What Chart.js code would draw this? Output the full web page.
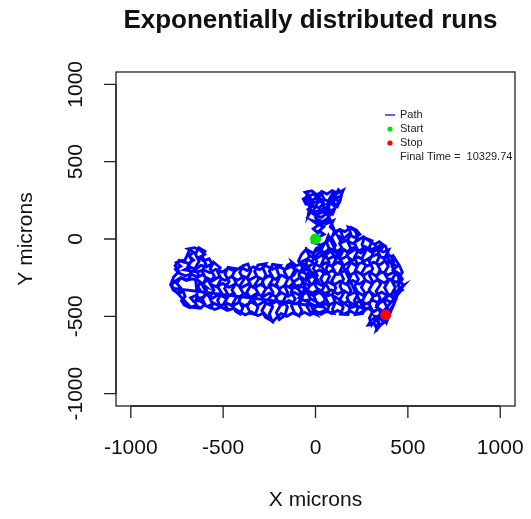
<!DOCTYPE html>
<html>
<head>
<meta charset="utf-8">
<script src="https://cdn.jsdelivr.net/npm/chart.js@4/dist/chart.umd.min.js"></script>
<style>
  html, body { margin: 0; padding: 0; background: #fff; }
  #wrap { width: 531px; height: 519px; }
</style>
</head>
<body>
<div id="wrap"><canvas id="walk"></canvas></div>
<script>
'use strict';

// walk (microns), in stretches: start -> stop
var walkLoop = [
  [0,0],[14,38],[-12,66],[22,96],[6,128],[40,112],[72,140],[58,98],[96,118],[80,78],[104,52],
  [70,150],[42,176],[8,158],[-22,186],[-40,150],[-30,210],[-8,236],[-52,226],[-66,258],[-38,280],[-56,302],[-20,312],[8,286],[36,306],[62,290],[90,312],[120,296],[150,316],[138,280],[110,262],[128,236],[100,214],[80,238],[52,254],[24,240],[-2,262],[-28,244],[-48,268],[-14,290],[20,268],[48,226],[18,202],[-14,214],[-40,192],[-18,168],[14,182],[46,196],[78,180],[104,196],[92,160],[62,170],[34,140],[4,150],
  [-20,170],[-34,214],[-52,256],[-44,296],[-30,270],[-16,230],[-6,196],[10,232],[20,276],[30,300],[44,262],[36,222],[56,186],[66,230],[80,270],[98,300],[112,272],[96,236],[118,210],[134,250],[142,292],[124,318],
  [106,280],[86,250],[70,206],[84,166],[64,130],[40,100],
  [-18,120],[10,96],[44,78],[20,52],[46,30],[16,12],[-14,-22]
];
var walkEast = [
  [30,-40],[70,-10],[100,30],[130,62],[160,48],[190,76],[220,58],[240,30],[210,10],[180,30],[150,0],[120,22],
  [140,-24],[170,-8],[200,-30],[232,-6],[260,14],[290,-12],[320,-36],[345,-18],[372,-42],[356,-64],
  [330,-50],[300,-72],[268,-48],[240,-76],[206,-56],[176,-84],[142,-60],[110,-86],[78,-62],[48,-88],[18,-66],[-12,-92],[-44,-70],
  [-30,-112],[4,-126],[36,-104],[70,-130],[104,-108],[136,-132],[170,-112],[200,-138],[232,-116],[266,-142],[298,-118],[330,-100],[364,-122],[398,-104],[420,-130],
  [404,-156],[376,-142],[346,-168],[314,-150],[282,-174],[250,-152],[216,-170],[186,-146],[154,-172],[120,-150],[88,-176],[56,-154],[24,-178],[-8,-156],[-40,-180],[-72,-158],[-104,-174],[-128,-150],
  [-110,-200],[-78,-214],[-44,-196],[-12,-222],[22,-200],[56,-226],[90,-204],[122,-230],[156,-206],[190,-232],[224,-210],[258,-236],[292,-212],[326,-238],[360,-214],[394,-232],[428,-212],[446,-240],
  [464,-262],[436,-280],[404,-258],[372,-284],[338,-262],[304,-288],[270,-266],[236,-292],[202,-268],[168,-294],[134,-272],[100,-298],[66,-276],[32,-300],[0,-278],[-32,-302],[-66,-280],
  [-50,-330],[-16,-350],[18,-326],[52,-352],[86,-330],[120,-356],[154,-334],[188,-360],[222,-338],[256,-364],[290,-340],[324,-366],[358,-344],[392,-368],[426,-346],[460,-324],[478,-300],[452,-318],
  [436,-390],[410,-410],[378,-392],[344,-416],[310,-396],[276,-420],[242,-398],[208,-424],[174,-402],[140,-428],[106,-406],[72,-430],[38,-410],[4,-436],[-30,-414],
  [-14,-456],[20,-478],[54,-460],[88,-482],[120,-462],[154,-486],[188,-466],[222,-488],[254,-470],[284,-446],[312,-472],[340,-452],[372,-476],[404,-458],[420,-430],
  [396,-500],[366,-516],[334,-500],[302,-524],[286,-556],[318,-548],[334,-584],[348,-560],[370,-540],[352,-516],[320,-500]
];
var walkEastCols = [
  [340,-540],[330,-586],[350,-560],[336,-520],[352,-476],[330,-430],[350,-384],[328,-338],[352,-292],[330,-246],[350,-200],[330,-154],[348,-108],[334,-62],[350,-40],
  [378,-44],[392,-86],[372,-130],[394,-176],[372,-222],[396,-268],[374,-314],[394,-360],[372,-406],[392,-452],[370,-500],[384,-540],
  [414,-450],[430,-406],[410,-360],[432,-314],[412,-268],[434,-222],[414,-176],[428,-130],[416,-100],
  [454,-172],[470,-214],[450,-258],[476,-300],[456,-344],
  [304,-556],[292,-512],[310,-466],[290,-420],[312,-374],[290,-328],[312,-282],[292,-236],[310,-190],[290,-144],[310,-98],[292,-52],[306,-12],
  [264,8],[252,-36],[270,-82],[250,-128],[272,-174],[250,-220],[270,-266],[248,-312],[272,-358],[252,-404],[268,-450],[256,-482],
  [216,-488],[230,-444],[210,-398],[232,-352],[212,-306],[232,-260],[212,-214],[230,-168],[210,-122],[230,-76],[212,-30],[228,14],[214,56],
  [178,76],[192,32],[172,-12],[190,-58],[170,-104],[192,-150],[170,-196],[190,-242],[172,-288],[192,-334],[170,-380],[190,-426],[176,-488],
  [136,-486],[150,-442],[130,-396],[152,-350],[132,-304],[152,-258],[132,-212],[150,-166],[130,-120],[150,-74],[130,-28],[146,18],[134,58],
  [102,50],[88,6],[108,-40],[88,-86],[110,-132],[90,-178],[110,-224],[88,-270],[110,-316],[90,-362],[108,-408],[92,-454],[100,-480],
  [62,-470],[74,-426],[54,-380],[76,-334],[56,-288],[76,-242],[56,-196],[74,-150],[56,-104],[72,-58],[58,-14],[70,22]
];
var walkWest = [
  [260,-452],[226,-432],[190,-444],[156,-418],[120,-384],[86,-360],[52,-372],[20,-346],
  [-12,-366],[-46,-344],[-80,-368],[-114,-346],[-148,-370],[-182,-348],[-216,-372],[-250,-350],[-284,-374],[-318,-352],[-352,-376],[-386,-354],[-420,-378],[-454,-356],[-488,-380],[-522,-358],[-556,-382],[-590,-360],[-620,-338],
  [-636,-312],[-628,-286],[-600,-302],[-632,-270],[-666,-258],[-700,-268],[-730,-250],[-760,-272],[-782,-300],[-770,-330],[-744,-352],[-716,-340],[-706,-372],[-726,-398],[-710,-428],[-680,-444],[-650,-430],[-620,-446],[-600,-420],[-630,-398],[-660,-404],[-676,-380],[-650,-366],[-626,-384],[-600,-370],
  [-590,-330],[-610,-290],[-584,-262],[-610,-230],[-640,-248],[-672,-226],[-706,-238],[-740,-220],[-758,-196],[-730,-176],[-752,-152],[-720,-138],[-690,-160],[-660,-136],[-684,-110],[-660,-86],[-690,-64],[-656,-56],[-624,-72],[-600,-100],[-630,-118],[-606,-142],[-576,-128],[-560,-160],[-590,-180],[-620,-170],[-648,-196],[-680,-182],[-710,-200],
  [-640,-214],[-606,-200],[-572,-218],[-540,-196],[-506,-214],[-472,-190],[-438,-208],[-404,-182],[-370,-204],[-336,-180],[-302,-198],[-268,-172],[-234,-196],[-200,-176],[-166,-198],[-132,-178],[-100,-200],
  [-118,-236],[-150,-256],[-184,-234],[-218,-260],[-252,-238],[-286,-262],[-320,-240],[-354,-264],[-388,-242],[-422,-266],[-456,-244],[-490,-268],[-524,-246],[-558,-270],[-590,-250],
  [-570,-292],[-536,-310],[-502,-288],[-468,-312],[-434,-290],[-400,-314],[-366,-292],[-332,-316],[-298,-294],[-264,-318],[-230,-296],[-196,-320],[-162,-298],[-128,-322],[-94,-300],[-60,-316],
  [-76,-400],[-110,-420],[-144,-398],[-178,-424],[-212,-402],[-246,-428],[-280,-406],[-314,-430],[-348,-408],[-382,-432],[-416,-410],[-450,-434],[-484,-412],[-518,-436],[-552,-414],[-580,-434],
  [-546,-456],[-512,-440],[-478,-462],[-444,-448],[-410,-470],[-380,-490],[-346,-472],[-312,-496],[-280,-478],[-254,-510],[-232,-536],[-210,-508],[-186,-482],[-156,-500],[-124,-478],[-92,-496],[-60,-474],[-30,-492],[0,-470],[30,-488],[62,-466]
];
var walkWestCols = [
  [40,-430],[52,-388],[30,-346],[48,-302],[28,-258],[50,-214],[30,-170],[46,-124],[26,-80],[44,-40],
  [4,-60],[-14,-100],[8,-146],[-12,-190],[10,-236],[-10,-282],[12,-326],[-8,-372],[10,-418],[-10,-462],[6,-490],
  [-30,-470],[-50,-428],[-28,-384],[-48,-338],[-26,-292],[-50,-246],[-30,-200],[-52,-156],[-34,-110],[-50,-66],
  [-76,-100],[-92,-142],[-70,-186],[-90,-232],[-68,-278],[-92,-324],[-72,-370],[-94,-416],[-74,-462],[-88,-498],
  [-114,-476],[-130,-432],[-110,-388],[-132,-342],[-112,-296],[-134,-250],[-114,-204],[-130,-156],
  [-150,-168],[-170,-210],[-148,-256],[-168,-302],[-150,-348],[-172,-394],[-152,-440],[-166,-494],
  [-196,-520],[-212,-476],[-190,-430],[-214,-384],[-192,-338],[-212,-292],[-194,-246],[-210,-196],[-190,-172],
  [-232,-164],[-250,-208],[-228,-254],[-252,-300],[-230,-346],[-254,-392],[-232,-438],[-250,-484],[-236,-530],
  [-272,-506],[-290,-462],[-268,-416],[-292,-370],[-270,-324],[-288,-278],[-268,-232],[-286,-186],[-270,-160],
  [-312,-168],[-330,-212],[-308,-258],[-332,-304],[-310,-350],[-334,-396],[-312,-442],[-326,-488],
  [-352,-480],[-370,-436],[-348,-390],[-372,-344],[-350,-298],[-370,-252],[-350,-206],[-366,-162],
  [-392,-172],[-410,-216],[-388,-262],[-412,-308],[-390,-354],[-414,-400],[-394,-446],[-408,-486],
  [-434,-466],[-450,-422],[-428,-376],[-452,-330],[-430,-284],[-450,-238],[-432,-192],
  [-474,-184],[-490,-228],[-468,-274],[-492,-320],[-470,-366],[-494,-412],[-476,-452],
  [-514,-440],[-530,-396],[-508,-350],[-532,-304],[-510,-258],[-530,-212],[-516,-186],
  [-552,-150],[-570,-194],[-548,-240],[-572,-286],[-550,-332],[-574,-378],[-556,-424],[-570,-446],
  [-596,-430],[-612,-388],[-590,-346],[-612,-300],[-594,-254],[-614,-208],[-594,-162],[-612,-116],[-598,-80],
  [-632,-56],[-650,-98],[-630,-144],[-652,-190],[-632,-236],[-648,-268],
  [-640,-372],[-652,-410],[-636,-446],
  [-676,-440],[-700,-410],[-724,-380],[-748,-350],[-730,-316],[-752,-286],[-728,-250],[-690,-264],[-672,-226],[-692,-182],[-670,-138],[-690,-94],[-676,-58],
  [-712,-150],[-738,-138],[-760,-172],[-740,-210],[-768,-246],[-784,-296],[-766,-320]
];
var walkHome = [
  [40,-440],[10,-410],[-24,-388],[-56,-400],[-90,-380],[-70,-350],[-100,-320],[-134,-300],[-110,-270],[-80,-246],[-50,-268],[-20,-240],[10,-262],[-10,-220],[-40,-236],[-70,-212],[-50,-180],[-80,-150],[-48,-130],[-20,-146],[0,-110],[30,-80],[60,-100],[90,-70],[120,-96],[150,-68],[182,-92],[214,-66],[246,-90],[276,-64],[306,-88],[338,-66],[366,-84],[396,-70],[380,-110],[410,-150],[440,-178],[420,-200],[452,-224],[470,-260],[446,-300],[470,-330],[440,-352],[420,-380],[396,-360],[372,-384],[350,-410],[330,-440],[356,-460],[380,-490]
];
var startPoint = [0, 0];
var stopPoint = [380, -490];
var xTicks = [-1000, -500, 0, 500, 1000];
var yTicks = [-1000, -500, 0, 500, 1000];
var legendLabels = ['Path', 'Start', 'Stop', 'Final Time =  10329.74'];

var FONT = '"Liberation Sans", Arial, Helvetica, sans-serif';
var INK = '#222';

var toXY = function (p) { return { x: p[0], y: p[1] }; };
var path = walkLoop.concat(walkEast, walkEastCols, walkWest, walkWestCols, walkHome);

// R style frame, ticks, labels and legend drawn off the chart's own scales
var rDecor = {
  id: 'rDecor',
  afterDraw: function (chart) {
    var ctx = chart.ctx;
    var area = chart.chartArea;
    var xs = chart.scales.x;
    var ys = chart.scales.y;
    var tick = 12;

    ctx.save();
    ctx.strokeStyle = INK;
    ctx.lineWidth = 1.3;
    ctx.strokeRect(area.left, area.top, area.right - area.left, area.bottom - area.top);

    // x axis
    ctx.beginPath();
    ctx.moveTo(xs.getPixelForValue(xTicks[0]), area.bottom);
    ctx.lineTo(xs.getPixelForValue(xTicks[xTicks.length - 1]), area.bottom);
    xTicks.forEach(function (v) {
      var px = xs.getPixelForValue(v);
      ctx.moveTo(px, area.bottom);
      ctx.lineTo(px, area.bottom + tick);
    });
    // y axis
    ctx.moveTo(area.left, ys.getPixelForValue(yTicks[0]));
    ctx.lineTo(area.left, ys.getPixelForValue(yTicks[yTicks.length - 1]));
    yTicks.forEach(function (v) {
      var py = ys.getPixelForValue(v);
      ctx.moveTo(area.left, py);
      ctx.lineTo(area.left - tick, py);
    });
    ctx.stroke();

    ctx.fillStyle = '#111';
    ctx.font = '21px ' + FONT;
    ctx.textAlign = 'center';
    ctx.textBaseline = 'middle';
    xTicks.forEach(function (v) {
      ctx.fillText(String(v), xs.getPixelForValue(v), area.bottom + 42);
    });
    yTicks.forEach(function (v) {
      ctx.save();
      ctx.translate(area.left - 40, ys.getPixelForValue(v));
      ctx.rotate(-Math.PI / 2);
      ctx.fillText(String(v), 0, 0);
      ctx.restore();
    });

    // axis titles and main title
    var midX = (area.left + area.right) / 2;
    var midY = (area.top + area.bottom) / 2;
    ctx.fillText('X microns', midX, area.bottom + 94);
    ctx.save();
    ctx.translate(area.left - 90, midY);
    ctx.rotate(-Math.PI / 2);
    ctx.fillText('Y microns', 0, 0);
    ctx.restore();
    ctx.font = 'bold 26px ' + FONT;
    ctx.fillText('Exponentially distributed runs', midX - 5, 21);

    // legend (no box)
    var lx = area.right - 129;
    var ly = area.top + 43;
    var gap = 14;
    ctx.font = '11px ' + FONT;
    ctx.textAlign = 'left';
    ctx.strokeStyle = '#6060ff';
    ctx.lineWidth = 2;
    ctx.beginPath();
    ctx.moveTo(lx - 1, ly);
    ctx.lineTo(lx + 9, ly);
    ctx.stroke();
    ctx.fillStyle = '#00e000';
    ctx.beginPath();
    ctx.arc(lx + 4, ly + gap, 2.6, 0, Math.PI * 2);
    ctx.fill();
    ctx.fillStyle = '#ff0000';
    ctx.beginPath();
    ctx.arc(lx + 4, ly + 2 * gap, 2.6, 0, Math.PI * 2);
    ctx.fill();
    ctx.fillStyle = '#222';
    legendLabels.forEach(function (t, i) {
      ctx.fillText(t, lx + 14, ly + i * gap);
    });
    ctx.restore();
  }
};

new Chart(document.getElementById('walk'), {
  type: 'scatter',
  data: {
    datasets: [
      {
        label: 'Path',
        data: path.map(toXY),
        showLine: true,
        borderColor: '#0000ff',
        borderWidth: 2.9,
        pointRadius: 0,
        tension: 0,
        order: 2
      },
      {
        label: 'Start',
        data: [toXY(startPoint)],
        backgroundColor: '#00e000',
        borderWidth: 0,
        pointRadius: 5.5,
        order: 1
      },
      {
        label: 'Stop',
        data: [toXY(stopPoint)],
        backgroundColor: '#ff0000',
        borderWidth: 0,
        pointRadius: 5.5,
        order: 1
      }
    ]
  },
  options: {
    responsive: true,
    maintainAspectRatio: false,
    animation: false,
    layout: { padding: { left: 116, right: 16, top: 72, bottom: 113 } },
    plugins: {
      legend: { display: false },
      tooltip: { enabled: false },
      title: { display: false }
    },
    scales: {
      x: { type: 'linear', min: -1080, max: 1080, display: false },
      y: { type: 'linear', min: -1080, max: 1080, display: false }
    }
  },
  plugins: [rDecor]
});
</script>
</body>
</html>
